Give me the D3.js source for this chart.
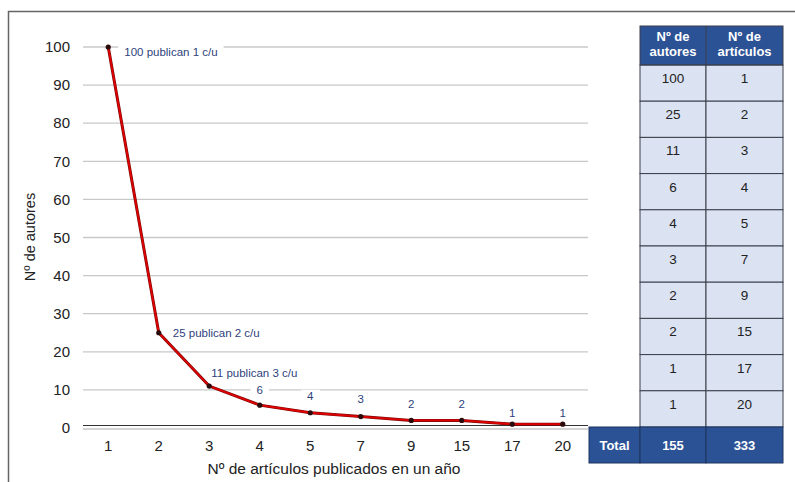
<!DOCTYPE html>
<html>
<head>
<meta charset="utf-8">
<script src="https://cdn.jsdelivr.net/npm/d3@7"></script>
<style>
  body { margin: 0; background: #fff; }
  svg { display: block; font-family: "Liberation Sans", Arial, sans-serif; }
</style>
</head>
<body>
<div id="chart"></div>
<script>
const articulos = ["1", "2", "3", "4", "5", "7", "9", "15", "17", "20"]
const autores = [100, 25, 11, 6, 4, 3, 2, 2, 1, 1]
const pointLabels = ["100 publican 1 c/u", "25 publican 2 c/u", "11 publican 3 c/u", "6", "4", "3", "2", "2", "1", "1"]
const yTicks = [0, 10, 20, 30, 40, 50, 60, 70, 80, 90, 100]
const tableHeader = [["Nº de", "autores"], ["Nº de", "artículos"]]
const totals = ["Total", "155", "333"]

const width = 795, height = 482
const margin = { top: 47, right: 207, bottom: 54, left: 83 }

const svg = d3.select("#chart").append("svg")
    .attr("width", width)
    .attr("height", height)

// outer frame
svg.append("path")
    .attr("d", "M8.5,482 V11.5 H795")
    .attr("fill", "none")
    .attr("stroke", "#666")
    .attr("stroke-width", 1.5)

const x = d3.scaleBand()
    .domain(articulos)
    .range([margin.left, width - margin.right])

const y = d3.scaleLinear()
    .domain([0, 100])
    .range([height - margin.bottom, margin.top])

const gridRight = 588

// gridlines
svg.append("g")
    .selectAll("line")
    .data(yTicks.filter(d => d > 0))
    .enter()
    .append("line")
    .attr("x1", margin.left)
    .attr("x2", gridRight)
    .attr("y1", d => y(d))
    .attr("y2", d => y(d))
    .attr("stroke", "#c8c8c8")
    .attr("stroke-width", 1.3)

// y tick labels
svg.append("g")
    .selectAll("text")
    .data(yTicks)
    .enter()
    .append("text")
    .attr("x", 70)
    .attr("y", d => y(d))
    .attr("dy", "0.35em")
    .attr("text-anchor", "end")
    .attr("font-size", 15)
    .attr("fill", "#222")
    .text(d => d)

// x axis (double line)
svg.append("line")
    .attr("x1", margin.left).attr("x2", gridRight)
    .attr("y1", y(0) - 2.5).attr("y2", y(0) - 2.5)
    .attr("stroke", "#333").attr("stroke-width", 1.2)
svg.append("line")
    .attr("x1", margin.left).attr("x2", gridRight)
    .attr("y1", y(0) + 1).attr("y2", y(0) + 1)
    .attr("stroke", "#aaa").attr("stroke-width", 1)

svg.append("g")
    .selectAll("text")
    .data(articulos)
    .enter()
    .append("text")
    .attr("x", d => x(d) + x.bandwidth() / 2)
    .attr("y", 451)
    .attr("text-anchor", "middle")
    .attr("font-size", 15)
    .attr("fill", "#222")
    .text(d => d)

svg.append("text")
    .attr("x", 334)
    .attr("y", 474)
    .attr("text-anchor", "middle")
    .attr("font-size", 15.5)
    .attr("fill", "#222")
    .text("Nº de artículos publicados en un año")

svg.append("text")
    .attr("transform", "translate(35,237) rotate(-90)")
    .attr("text-anchor", "middle")
    .attr("font-size", 14.5)
    .attr("fill", "#222")
    .text("Nº de autores")

// point labels with white background
const labelOffsets = [
    { dx: 16, dy: 5, anchor: "start" },
    { dx: 14, dy: 0, anchor: "start" },
    { dx: 2, dy: -13, anchor: "start" },
    { dx: 0, dy: -15, anchor: "middle" },
    { dx: 0, dy: -17, anchor: "middle" },
    { dx: 0, dy: -18, anchor: "middle" },
    { dx: 0, dy: -16, anchor: "middle" },
    { dx: 0, dy: -16, anchor: "middle" },
    { dx: 0, dy: -11, anchor: "middle" },
    { dx: 0, dy: -11, anchor: "middle" }
]
const data = articulos.map((a, i) => ({ a, v: autores[i], label: pointLabels[i], off: labelOffsets[i] }))

const labelGroup = svg.append("g")
data.forEach(d => {
    const t = labelGroup.append("text")
        .attr("x", x(d.a) + x.bandwidth() / 2 + d.off.dx)
        .attr("y", y(d.v) + d.off.dy)
        .attr("dy", "0.35em")
        .attr("text-anchor", d.off.anchor)
        .attr("font-size", 11.5)
        .attr("fill", "#2e3f7c")
        .text(d.label)
    const b = t.node().getBBox()
    labelGroup.insert("rect", "text")
        .attr("x", b.x - 6)
        .attr("y", b.y)
        .attr("width", b.width + 12)
        .attr("height", b.height)
        .attr("fill", "#fff")
})

// line + markers
const line = d3.line()
    .x(d => x(d.a) + x.bandwidth() / 2)
    .y(d => y(d.v))

svg.append("path")
    .datum(data)
    .attr("d", line)
    .attr("fill", "none")
    .attr("stroke", "#7a0a0a")
    .attr("stroke-width", 3)
svg.append("path")
    .datum(data)
    .attr("d", line)
    .attr("fill", "none")
    .attr("stroke", "#e00000")
    .attr("stroke-width", 1.8)

svg.append("g")
    .selectAll("circle")
    .data(data)
    .enter()
    .append("circle")
    .attr("cx", d => x(d.a) + x.bandwidth() / 2)
    .attr("cy", d => y(d.v))
    .attr("r", 2.6)
    .attr("fill", "#2a0a0a")

// table
const colX = [589, 640, 706, 783]
const headTop = 26, headBottom = 65
const rowH = (y(0) - 1 - headBottom) / autores.length
const dark = "#2c5296", light = "#dbe3f3", border = "#3a3f4a"

const table = svg.append("g")
table.append("rect")
    .attr("x", colX[1]).attr("y", headTop)
    .attr("width", colX[3] - colX[1]).attr("height", headBottom - headTop)
    .attr("fill", dark)

tableHeader.forEach((lines, i) => {
    const cx = (colX[i + 1] + colX[i + 2]) / 2
    lines.forEach((s, j) => {
        table.append("text")
            .attr("x", cx)
            .attr("y", headTop + 15 + j * 15)
            .attr("text-anchor", "middle")
            .attr("font-size", 13)
            .attr("font-weight", "bold")
            .attr("fill", "#fff")
            .text(s)
    })
})

const rows = autores.map((v, i) => [String(v), articulos[i]])
rows.forEach((r, i) => {
    const top = headBottom + i * rowH
    r.forEach((s, j) => {
        table.append("rect")
            .attr("x", colX[j + 1]).attr("y", top)
            .attr("width", colX[j + 2] - colX[j + 1]).attr("height", rowH)
            .attr("fill", light)
            .attr("stroke", border)
            .attr("stroke-width", 1)
        table.append("text")
            .attr("x", (colX[j + 1] + colX[j + 2]) / 2)
            .attr("y", top + 18)
            .attr("text-anchor", "middle")
            .attr("font-size", 13.5)
            .attr("fill", "#222")
            .text(s)
    })
})

const totTop = headBottom + autores.length * rowH
totals.forEach((s, j) => {
    table.append("rect")
        .attr("x", colX[j]).attr("y", totTop)
        .attr("width", colX[j + 1] - colX[j]).attr("height", 36)
        .attr("fill", dark)
        .attr("stroke", "#1f3560")
        .attr("stroke-width", 1)
    table.append("text")
        .attr("x", (colX[j] + colX[j + 1]) / 2)
        .attr("y", totTop + 18)
        .attr("dy", "0.35em")
        .attr("text-anchor", "middle")
        .attr("font-size", 13)
        .attr("font-weight", "bold")
        .attr("fill", "#fff")
        .text(s)
})

// header outline
table.append("rect")
    .attr("x", colX[1]).attr("y", headTop)
    .attr("width", colX[3] - colX[1]).attr("height", headBottom - headTop)
    .attr("fill", "none")
    .attr("stroke", border)
table.append("line")
    .attr("x1", colX[2]).attr("x2", colX[2])
    .attr("y1", headTop).attr("y2", headBottom)
    .attr("stroke", border)
</script>
</body>
</html>
